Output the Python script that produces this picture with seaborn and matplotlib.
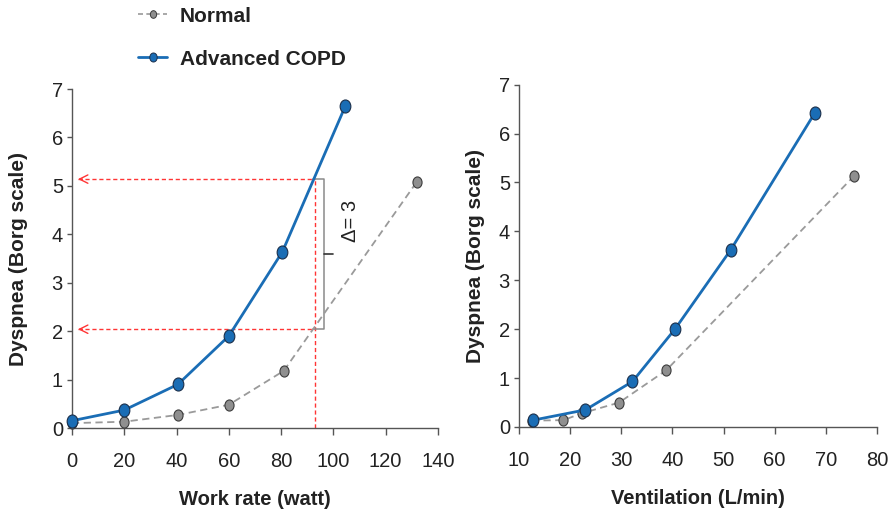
import numpy as np
import pandas as pd
import matplotlib
matplotlib.use("Agg")
import matplotlib.pyplot as plt
import seaborn as sns
from matplotlib.path import Path
from matplotlib.transforms import Affine2D
from matplotlib.lines import Line2D

# ---------------- data ----------------
work_rate_copd = [0, 20, 40.5, 60, 80.5, 104.5]
dyspnea_copd_work = [0.15, 0.37, 0.90, 1.90, 3.64, 6.64]
work_rate_normal = [0, 20, 40.5, 60, 81, 132]
dyspnea_normal_work = [0.10, 0.13, 0.27, 0.48, 1.18, 5.09]

vent_copd = [12.8, 23.0, 32.2, 40.5, 51.4, 67.9]
dyspnea_copd_vent = [0.14, 0.35, 0.93, 2.00, 3.62, 6.43]
vent_normal = [12.5, 18.7, 22.3, 29.6, 38.8, 75.6]
dyspnea_normal_vent = [0.13, 0.14, 0.28, 0.50, 1.16, 5.14]

work_ticks = [0, 20, 40, 60, 80, 100, 120, 140]
vent_ticks = [10, 20, 30, 40, 50, 60, 70, 80]
y_ticks = [0, 1, 2, 3, 4, 5, 6, 7]

series_labels = ["Normal", "Advanced COPD"]
xlabels = ["Work rate (watt)", "Ventilation (L/min)"]
ylabel = "Dyspnea (Borg scale)"

# guide annotation
guide_work = 93
guide_low = 2.04
guide_high = 5.14
delta_text = "Δ= 3"

# ---------------- style ----------------
sns.set_style("ticks")
plt.rcParams["font.family"] = ["Liberation Sans", "DejaVu Sans"]
TXT = "#222222"
SPINE = "#555555"
BLUE = "#1a6db5"
BLUE_EDGE = "#1b2f4a"
GRAY_FACE = "#8f8f8f"
GRAY_EDGE = "#3c3c3c"
GRAY_LINE = "#9a9a9a"
RED = "#ff3535"

ell = Path.unit_circle().transformed(Affine2D().scale(0.82, 1.0))

fig = plt.figure(figsize=(8.94, 5.14), dpi=100)
ax1 = fig.add_axes([0.0805, 0.1673, 0.4094, 0.6595])
ax2 = fig.add_axes([0.5805, 0.1693, 0.4004, 0.6660])


def draw(ax, xn, yn, xc, yc):
    sns.lineplot(x=xn, y=yn, ax=ax, color=GRAY_LINE, lw=1.3,
                 marker=ell, markersize=8.0, markerfacecolor=GRAY_FACE,
                 markeredgecolor=GRAY_EDGE, markeredgewidth=0.8, zorder=3)
    ax.lines[-1].set_linestyle((0, (4, 2.5)))
    sns.lineplot(x=xc, y=yc, ax=ax, color=BLUE, lw=2.0,
                 marker=ell, markersize=9.4, markerfacecolor=BLUE,
                 markeredgecolor=BLUE_EDGE, markeredgewidth=0.8, zorder=4)
    for ln in ax.lines:
        ln.set_clip_on(False)


draw(ax1, work_rate_normal, dyspnea_normal_work, work_rate_copd, dyspnea_copd_work)
draw(ax2, vent_normal, dyspnea_normal_vent, vent_copd, dyspnea_copd_vent)

for ax, xt, xl, lp in [(ax1, work_ticks, xlabels[0], 17), (ax2, vent_ticks, xlabels[1], 9.5)]:
    ax.set_xlim(xt[0], xt[-1])
    ax.set_ylim(0, 7)
    ax.set_xticks(xt)
    ax.set_yticks(y_ticks)
    ax.set_xticklabels([str(t) for t in xt])
    ax.set_yticklabels([str(t) for t in y_ticks])
    sns.despine(ax=ax)
    for s in ["left", "bottom"]:
        ax.spines[s].set_color(SPINE)
        ax.spines[s].set_linewidth(1.0)
    ax.tick_params(axis="x", direction="out", length=5, width=1, color=SPINE,
                   pad=12, labelsize=14.5, labelcolor=TXT)
    ax.tick_params(axis="y", direction="out", length=3.5, width=1, color=SPINE,
                   pad=3, labelsize=14.5, labelcolor=TXT)
    ax.set_xlabel(xl, fontsize=14.5, fontweight="bold", color=TXT, labelpad=14)
    ax.set_ylabel(ylabel, fontsize=15, fontweight="bold", color=TXT, labelpad=lp)

# ---- red guide lines and arrows ----
ax1.plot([guide_work, guide_work], [0, guide_high], color=RED, lw=1.0,
         ls=(0, (3, 2)), zorder=2, clip_on=False)
for lvl in (guide_low, guide_high):
    ax1.plot([2.3, guide_work], [lvl, lvl], color=RED, lw=1.0, ls=(0, (3, 2)), zorder=2)
    ax1.annotate("", xy=(2.3, lvl), xytext=(4.0, lvl),
                 arrowprops=dict(arrowstyle="->,head_length=0.6,head_width=0.3",
                                 color=RED, lw=1.0, shrinkA=0, shrinkB=0))

# ---- bracket ----
bx = guide_work + 3.5
ax1.plot([guide_work - 0.7, bx, bx, guide_work - 0.7],
         [guide_high, guide_high, guide_low, guide_low], color="#8a8a8a", lw=1.1, zorder=2)
mid = (guide_low + guide_high) / 2
ax1.plot([bx, bx + 3.2], [mid, mid], color="#333333", lw=1.2, zorder=2)
ax1.text(bx + 10, mid + 0.68, delta_text, rotation=90, ha="center", va="center",
         fontsize=14.5, color=TXT)

# ---- legend ----
h_normal = Line2D([], [], color=GRAY_LINE, lw=1.2, ls=(0, (3, 2)), marker=ell,
                  markersize=5.5, markerfacecolor=GRAY_FACE, markeredgecolor=GRAY_EDGE,
                  markeredgewidth=0.7)
h_copd = Line2D([], [], color=BLUE, lw=2.0, marker=ell, markersize=6.5,
                markerfacecolor=BLUE, markeredgecolor=BLUE_EDGE, markeredgewidth=0.7)
leg = fig.legend([h_normal, h_copd], series_labels, loc="upper left",
                 bbox_to_anchor=(0.1544, 0.987), frameon=False,
                 prop={"weight": "bold", "size": 15}, handlelength=1.4,
                 handletextpad=0.6, labelspacing=1.15, borderpad=0, borderaxespad=0)
for t in leg.get_texts():
    t.set_color(TXT)

fig.savefig("out.png", dpi=100)
